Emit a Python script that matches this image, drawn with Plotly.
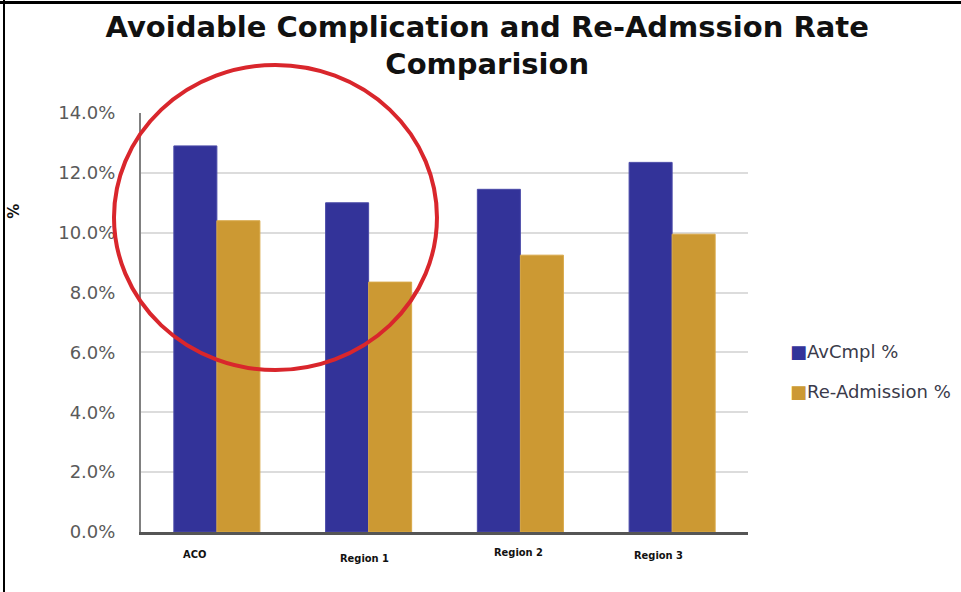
import plotly.graph_objects as go

# values (percent)
regions = ["ACO", "Region 1", "Region 2", "Region 3"]
avcmpl_pct = [12.9, 11.0, 11.45, 12.35]
readmission_pct = [10.4, 8.35, 9.25, 9.95]
y_ticks = [0, 2, 4, 6, 8, 10, 12, 14]

BLUE = "#333399"
GOLD = "#CC9933"

fig = go.Figure()
fig.add_trace(go.Bar(
    x=regions, y=avcmpl_pct, name="AvCmpl %",
    marker=dict(color=BLUE, line=dict(color="#4a4aa8", width=1)),
))
fig.add_trace(go.Bar(
    x=regions, y=readmission_pct, name="Re-Admission %",
    marker=dict(color=GOLD, line=dict(color="#d8a848", width=1)),
))

# category labels sit a little off-centre and at uneven heights in the original
label_shift = {"ACO": (-22, -22), "Region 1": (-4, -26), "Region 2": (-2, -20), "Region 3": (-14, -23)}
annotations = []
for r in regions:
    dx, dy = label_shift[r]
    annotations.append(dict(
        x=r, y=0, xref="x", yref="y", text=r, showarrow=False,
        xshift=dx, yshift=dy, yanchor="middle",
        font=dict(family="DejaVu Sans Condensed, Liberation Sans Narrow, sans-serif",
                  size=11, color="#111111", weight="bold"),
    ))

# y-axis title
annotations.append(dict(
    x=-0.2275, y=0.789, xref="paper", yref="paper", text="<b>%</b>", showarrow=False,
    textangle=-90, font=dict(family="DejaVu Sans", size=15, color="#111111"),
))

# legend drawn as text so the swatch hugs the label like the original
for i, (name, col) in enumerate([("AvCmpl %", BLUE), ("Re-Admission %", GOLD)]):
    annotations.append(dict(
        x=1.066, y=0.4296 - i * 0.0931, xref="paper", yref="paper",
        xanchor="left", yanchor="middle", showarrow=False,
        text=f"<span style='color:{col}'>■</span>{name}",
        font=dict(family="DejaVu Sans, Verdana, sans-serif", size=18, color="#3a3a4a"),
    ))

fig.update_layout(
    width=961, height=592,
    margin=dict(l=141, r=213, t=113, b=60),
    paper_bgcolor="white", plot_bgcolor="white",
    barmode="group", bargap=0.433, bargroupgap=0,
    showlegend=False,
    title=dict(
        text="<b>Avoidable Complication and Re-Admssion Rate<br>Comparision</b>",
        x=0.507, xanchor="center", y=0.938, yanchor="top",
        font=dict(family="DejaVu Sans", size=29, color="#111111"),
    ),
    xaxis=dict(
        type="category", showticklabels=False, showgrid=False,
        showline=True, linecolor="#555555", linewidth=3, ticks="",
    ),
    yaxis=dict(
        range=[0, 14], tickvals=y_ticks, ticktext=[f"{v:.1f}%" for v in y_ticks],
        showgrid=True, gridcolor="#dcdcdc", gridwidth=2,
        showline=True, linecolor="#808080", linewidth=2,
        zeroline=False, ticks="", ticklabelstandoff=20,
        tickfont=dict(family="DejaVu Sans, Verdana, sans-serif", size=18, color="#5a5a5a"),
    ),
    annotations=annotations,
    shapes=[
        # red highlight circle around ACO / Region 1
        dict(type="circle", xref="paper", yref="paper",
             x0=-0.0445, x1=0.4876, y0=0.3866, y1=1.1146,
             line=dict(color="#d9262c", width=4)),
        # black frame edges of the original screenshot
        dict(type="line", xref="paper", yref="paper",
             x0=-0.2323, x1=1.36, y0=1.2637, y1=1.2637,
             line=dict(color="black", width=3)),
        dict(type="line", xref="paper", yref="paper",
             x0=-0.2257, x1=-0.2257, y0=-0.15, y1=1.27,
             line=dict(color="black", width=2)),
    ],
)

# drop the browser's default page margin so the figure sits at the window corner
fig.write_html("out.html", config={"displayModeBar": False},
               post_script="document.body.style.margin='0';")
